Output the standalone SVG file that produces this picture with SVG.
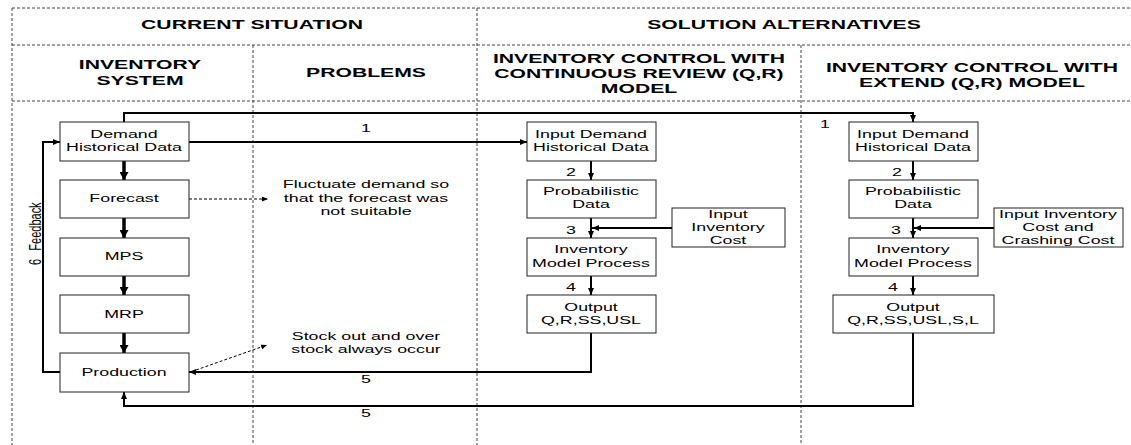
<svg xmlns="http://www.w3.org/2000/svg" width="1131" height="445" viewBox="0 0 1131 445">
<style>
.grid{stroke:#444;stroke-width:1;stroke-dasharray:3,2;fill:none}
.box{fill:#fff;stroke:#222;stroke-width:1}
.h{font-family:"Liberation Sans",Arial,sans-serif;font-weight:bold;font-size:13px;text-anchor:middle;fill:#000}
.t{font-family:"Liberation Sans",Arial,sans-serif;font-size:11px;text-anchor:middle;fill:#000}
.c{fill:none;stroke:#000;stroke-width:2}
.ck{fill:none;stroke:#000;stroke-width:3.5}
.d{fill:none;stroke:#000;stroke-width:1;stroke-dasharray:3,2}
</style>
<defs>
<marker id="a" markerUnits="userSpaceOnUse" markerWidth="7" markerHeight="6" refX="7" refY="3" orient="auto"><path d="M0,0 L7,3 L0,6 z" fill="#000"/></marker>
<marker id="ak" markerUnits="userSpaceOnUse" markerWidth="8" markerHeight="9" refX="8" refY="4.5" orient="auto"><path d="M0,0 L8,4.5 L0,9 z" fill="#000"/></marker>
<marker id="ad" markerUnits="userSpaceOnUse" markerWidth="6" markerHeight="5" refX="6" refY="2.5" orient="auto"><path d="M0,0 L6,2.5 L0,5 z" fill="#000"/></marker>
</defs>
<rect width="1131" height="445" fill="#fff"/>
<g id="frame">
<path class="grid" d="M12,8 H1131 M12,45 H1131 M12,101 H1131 M12,8 V445 M477,8 V445 M253,45 V445 M801,45 V445"/>
<text class="h" transform="translate(252,28.5) scale(1.63,1)">CURRENT SITUATION</text>
<text class="h" transform="translate(784,28.5) scale(1.63,1)">SOLUTION ALTERNATIVES</text>
<text class="h" transform="translate(140,69) scale(1.63,1)">INVENTORY</text>
<text class="h" transform="translate(140,85) scale(1.63,1)">SYSTEM</text>
<text class="h" transform="translate(366,77) scale(1.63,1)">PROBLEMS</text>
<text class="h" transform="translate(639,63) scale(1.63,1)">INVENTORY CONTROL WITH</text>
<text class="h" transform="translate(639,78) scale(1.63,1)">CONTINUOUS REVIEW (Q,R)</text>
<text class="h" transform="translate(639,93) scale(1.63,1)">MODEL</text>
<text class="h" transform="translate(972,72) scale(1.63,1)">INVENTORY CONTROL WITH</text>
<text class="h" transform="translate(972,87) scale(1.63,1)">EXTEND (Q,R) MODEL</text>
</g>
<g id="connectors">
<path class="ck" d="M124,161 V180" marker-end="url(#ak)"/>
<path class="ck" d="M124,218 V238" marker-end="url(#ak)"/>
<path class="ck" d="M124,276 V295" marker-end="url(#ak)"/>
<path class="ck" d="M124,333 V353" marker-end="url(#ak)"/>
<path class="c" d="M60,372 H43 V142 H60" marker-end="url(#a)"/>
<path class="c" d="M189,142 H527" marker-end="url(#a)"/>
<path class="c" d="M124,122 V113 H913 V122" marker-end="url(#a)"/>
<path class="c" d="M591,161 V180" marker-end="url(#a)"/>
<path class="c" d="M591,218 V238" marker-end="url(#a)"/>
<path class="c" d="M591,276 V295" marker-end="url(#a)"/>
<path class="c" d="M913,161 V180" marker-end="url(#a)"/>
<path class="c" d="M913,218 V238" marker-end="url(#a)"/>
<path class="c" d="M913,276 V295" marker-end="url(#a)"/>
<path class="c" d="M672,228 H592" marker-end="url(#a)"/>
<path class="c" d="M994,228 H914" marker-end="url(#a)"/>
<path class="c" d="M591,333 V372 H189" marker-end="url(#a)"/>
<path class="c" d="M913,333 V406 H124 V392" marker-end="url(#a)"/>
<path class="d" d="M189,199 H268" marker-end="url(#ad)"/>
<path class="d" d="M196,370 L267,345" marker-end="url(#ad)"/>
<text class="t" transform="translate(366,132) scale(1.62,1)">1</text>
<text class="t" transform="translate(825,128) scale(1.62,1)">1</text>
<text class="t" transform="translate(571,176) scale(1.62,1)">2</text>
<text class="t" transform="translate(571,234) scale(1.62,1)">3</text>
<text class="t" transform="translate(571,291) scale(1.62,1)">4</text>
<text class="t" transform="translate(897,176) scale(1.62,1)">2</text>
<text class="t" transform="translate(896,234) scale(1.62,1)">3</text>
<text class="t" transform="translate(893,291) scale(1.62,1)">4</text>
<text class="t" transform="translate(366,383) scale(1.62,1)">5</text>
<text class="t" transform="translate(366,417) scale(1.62,1)">5</text>
<text class="t" transform="translate(41,226.5) scale(1.55,1) rotate(-90)">Feedback</text>
<text class="t" transform="translate(41,262) scale(1.55,1) rotate(-90)">6</text>
</g>
<g id="demand">
<rect class="box" x="60" y="122" width="129" height="39"/>
<text class="t" transform="translate(124,138) scale(1.62,1)">Demand</text>
<text class="t" transform="translate(124,151) scale(1.62,1)">Historical Data</text>
</g>
<g id="forecast">
<rect class="box" x="60" y="180" width="129" height="38"/>
<text class="t" transform="translate(124,202) scale(1.62,1)">Forecast</text>
</g>
<g id="mps">
<rect class="box" x="60" y="238" width="129" height="38"/>
<text class="t" transform="translate(124,260) scale(1.62,1)">MPS</text>
</g>
<g id="mrp">
<rect class="box" x="60" y="295" width="129" height="38"/>
<text class="t" transform="translate(124,318) scale(1.62,1)">MRP</text>
</g>
<g id="production">
<rect class="box" x="60" y="353" width="129" height="39"/>
<text class="t" transform="translate(124,376) scale(1.62,1)">Production</text>
</g>
<g id="problem1">
<text class="t" transform="translate(366,188) scale(1.62,1)">Fluctuate demand so</text>
<text class="t" transform="translate(366,201.5) scale(1.62,1)">that the forecast was</text>
<text class="t" transform="translate(366,214.5) scale(1.62,1)">not suitable</text>
</g>
<g id="problem2">
<text class="t" transform="translate(366,340) scale(1.62,1)">Stock out and over</text>
<text class="t" transform="translate(366,353) scale(1.62,1)">stock always occur</text>
</g>
<g id="m-input">
<rect class="box" x="527" y="122" width="129" height="39"/>
<text class="t" transform="translate(591,138) scale(1.62,1)">Input Demand</text>
<text class="t" transform="translate(591,151) scale(1.62,1)">Historical Data</text>
</g>
<g id="m-prob">
<rect class="box" x="527" y="180" width="129" height="38"/>
<text class="t" transform="translate(591,195) scale(1.62,1)">Probabilistic</text>
<text class="t" transform="translate(591,208) scale(1.62,1)">Data</text>
</g>
<g id="m-model">
<rect class="box" x="527" y="238" width="129" height="38"/>
<text class="t" transform="translate(591,253) scale(1.62,1)">Inventory</text>
<text class="t" transform="translate(591,267) scale(1.62,1)">Model Process</text>
</g>
<g id="m-cost">
<rect class="box" x="672" y="208" width="113" height="39"/>
<text class="t" transform="translate(728,218) scale(1.62,1)">Input</text>
<text class="t" transform="translate(728,231) scale(1.62,1)">Inventory</text>
<text class="t" transform="translate(728,243.5) scale(1.62,1)">Cost</text>
</g>
<g id="m-output">
<rect class="box" x="527" y="295" width="129" height="38"/>
<text class="t" transform="translate(591,311) scale(1.62,1)">Output</text>
<text class="t" transform="translate(591,323.5) scale(1.62,1)">Q,R,SS,USL</text>
</g>
<g id="e-input">
<rect class="box" x="849" y="122" width="129" height="39"/>
<text class="t" transform="translate(913,138) scale(1.62,1)">Input Demand</text>
<text class="t" transform="translate(913,151) scale(1.62,1)">Historical Data</text>
</g>
<g id="e-prob">
<rect class="box" x="849" y="180" width="129" height="38"/>
<text class="t" transform="translate(913,195) scale(1.62,1)">Probabilistic</text>
<text class="t" transform="translate(913,208) scale(1.62,1)">Data</text>
</g>
<g id="e-model">
<rect class="box" x="849" y="238" width="129" height="38"/>
<text class="t" transform="translate(913,253) scale(1.62,1)">Inventory</text>
<text class="t" transform="translate(913,267) scale(1.62,1)">Model Process</text>
</g>
<g id="e-cost">
<rect class="box" x="994" y="208" width="129" height="39"/>
<text class="t" transform="translate(1058,218) scale(1.62,1)">Input Inventory</text>
<text class="t" transform="translate(1058,231) scale(1.62,1)">Cost and</text>
<text class="t" transform="translate(1058,243.5) scale(1.62,1)">Crashing Cost</text>
</g>
<g id="e-output">
<rect class="box" x="833" y="295" width="161" height="38"/>
<text class="t" transform="translate(913,311) scale(1.62,1)">Output</text>
<text class="t" transform="translate(913,323.5) scale(1.62,1)">Q,R,SS,USL,S,L</text>
</g>
</svg>
